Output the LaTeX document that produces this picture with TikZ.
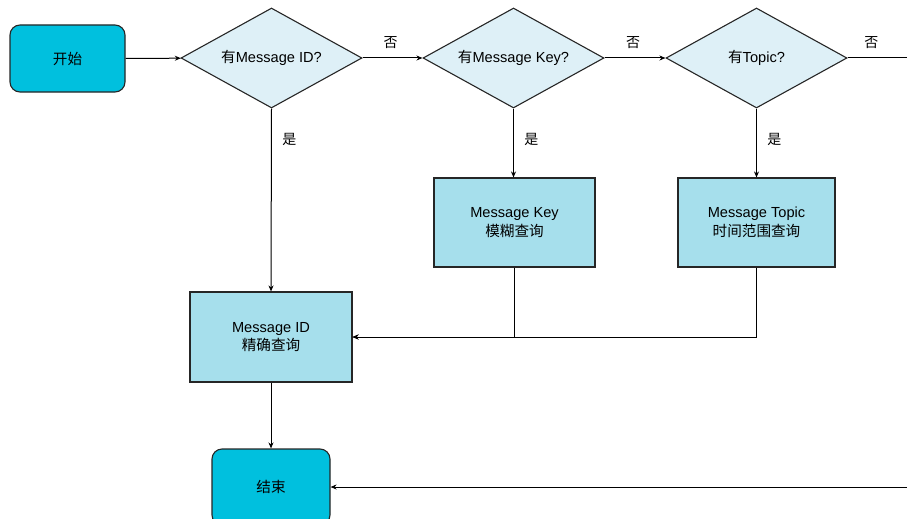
\documentclass[tikz,border=0pt]{standalone}
\usepackage{fontspec}
\setmainfont{Liberation Sans}
\newfontfamily\cjk{Noto Sans CJK SC}
\usetikzlibrary{shapes.geometric,arrows.meta}
\definecolor{termfill}{RGB}{0,192,222}
\definecolor{decfill}{RGB}{222,240,247}
\definecolor{procfill}{RGB}{166,223,236}
\tikzset{
  base/.style={draw=black!85,line width=1.1pt,font=\fontsize{14.6}{18.5}\selectfont,align=center,inner sep=0pt},
  term/.style={base,fill=termfill,rounded corners=10pt,minimum width=115pt,minimum height=67pt},
  dec/.style={base,fill=decfill,diamond,aspect=1.81,minimum width=181pt,minimum height=100pt},
  proc/.style={base,fill=procfill,minimum width=161pt,minimum height=89pt},
  conn/.style={line width=1pt,-{Stealth[length=6pt,width=5pt]}},
  lbl/.style={font=\cjk\fontsize{14}{16}\selectfont}
}
\begin{document}
\begin{tikzpicture}[x=1pt,y=-1pt]
\useasboundingbox (0,0) rectangle (907,519);
\clip (0,0) rectangle (907,519);
\node[term] (start) at (67.5,58.5) {\cjk 开始};
\node[dec] (d1) at (271.5,58) {{\cjk 有}Message ID?};
\node[dec] (d2) at (513.5,58) {{\cjk 有}Message Key?};
\node[dec] (d3) at (756.5,58) {{\cjk 有}Topic?};
\node[proc] (key) at (514.5,222.5) {Message Key\\{\cjk 模糊查询}};
\node[proc,minimum width=157pt] (topic) at (756.5,222.5) {Message Topic\\{\cjk 时间范围查询}};
\node[proc,minimum width=162pt,minimum height=90pt] (id) at (271,337) {Message ID\\{\cjk 精确查询}};
\node[term,minimum width=118pt,minimum height=76pt] (end) at (271,487) {\cjk 结束};
\coordinate (r3) at (920,58);
\coordinate (rend) at (920,487);
\draw[conn] (start) -- (d1);
\draw[conn] (d1) -- node[lbl,above=6pt,xshift=-2pt] {否} (d2);
\draw[conn] (d2) -- node[lbl,above=6pt,xshift=-2pt] {否} (d3);
\draw[line width=1pt] (d3.east) -- node[lbl,above=6pt,pos=0.33] {否} (r3);
\draw[conn] (d1.south) -- node[lbl,pos=0.17,right=7pt] {是} (id.north);
\draw[conn] (d2.south) -- node[lbl,pos=0.45,right=7pt] {是} (key.north -| d2.south);
\draw[conn] (d3.south) -- node[lbl,pos=0.45,right=7pt] {是} (topic.north -| d3.south);
\draw[conn] (key.south) |- (id.east);
\draw[conn] (topic.south) |- (id.east);
\draw[conn] (id) -- (end);
\draw[conn] (rend) -- (end.east);
\end{tikzpicture}
\end{document}
